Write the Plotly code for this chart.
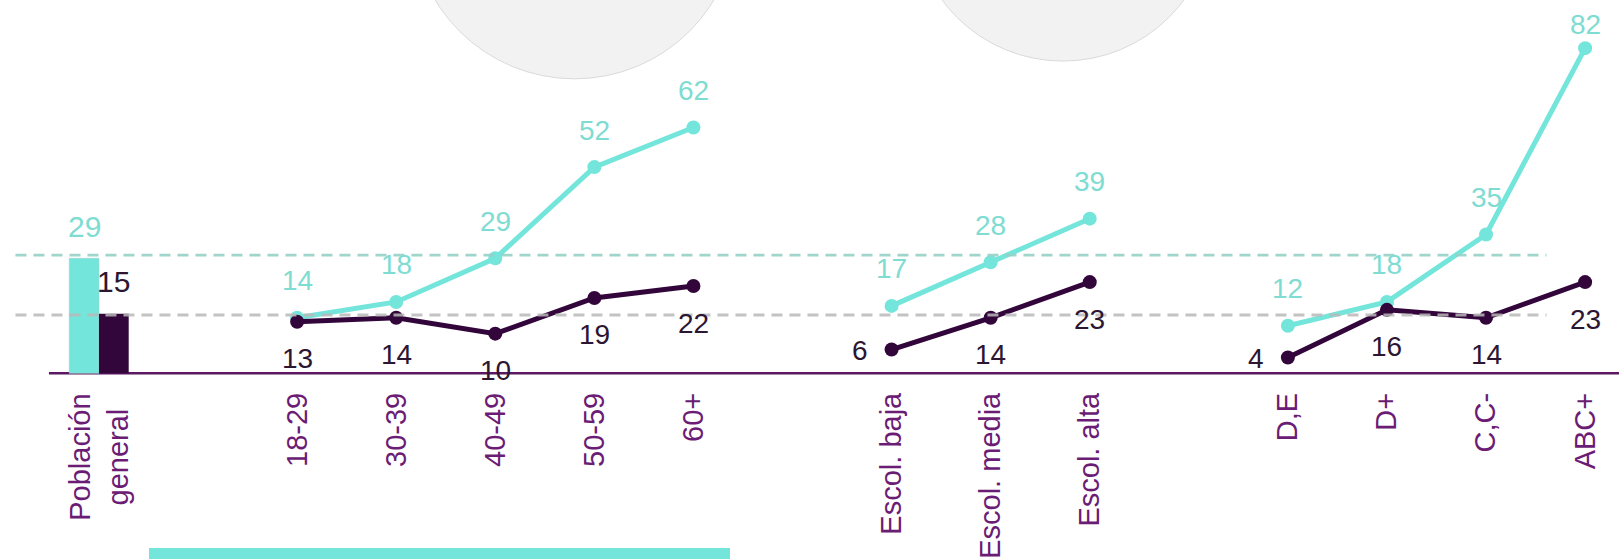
import plotly.graph_objects as go

# ---------------- data ----------------
POP_LABEL = "Población<br>general"
POP_CYAN = 29
POP_DARK = 15

AGE_LABELS = ["18-29", "30-39", "40-49", "50-59", "60+"]
AGE_CYAN = [14, 18, 29, 52, 62]
AGE_DARK = [13, 14, 10, 19, 22]

EDU_LABELS = ["Escol. baja", "Escol. media", "Escol. alta"]
EDU_CYAN = [17, 28, 39]
EDU_DARK = [6, 14, 23]

NSE_LABELS = ["D,E", "D+", "C,C-", "ABC+"]
NSE_CYAN = [12, 18, 35, 82]
NSE_DARK = [4, 16, 14, 23]

# label side for the dark series (style only)
AGE_DARK_SIDE = ["below"] * 5
EDU_DARK_SIDE = ["left", "below", "below"]
NSE_DARK_SIDE = ["left", "below", "below", "below"]

# ---------------- style ----------------
CYAN = "#74E5DA"
CYAN_TXT = "#7EDCD2"
DARK = "#33063B"
DARK_TXT = "#2C1631"
PURPLE = "#6B1C74"
AXIS = "#5C1862"
FONT = "Liberation Sans, Arial, sans-serif"

W, H = 1619, 559
PLOT_H = 380
Y_MIN, Y_MAX = -1.69, 94.15
X_MIN, X_MAX = -0.999, 15.342
PX_PER_Y = PLOT_H / (Y_MAX - Y_MIN)

fig = go.Figure()

# population bars
fig.add_trace(go.Bar(x=[0], y=[POP_CYAN], offset=-0.3, width=0.3,
                     marker=dict(color=CYAN, line=dict(width=0.6, color="#9FD3CC")),
                     showlegend=False, hoverinfo="skip"))
fig.add_trace(go.Bar(x=[0], y=[POP_DARK], offset=0, width=0.3,
                     marker=dict(color=DARK, line=dict(width=0)),
                     showlegend=False, hoverinfo="skip"))

annotations = []
def label(x, y, text, color, size, xshift=0, yshift=0):
    annotations.append(dict(x=x, y=y, xref="x", yref="y", text=text, showarrow=False,
                            xanchor="center", yanchor="middle", xshift=xshift, yshift=yshift,
                            font=dict(family=FONT, size=size, color=color)))

label(-0.15, POP_CYAN, str(POP_CYAN), CYAN_TXT, 30, yshift=32)
label(0.15, POP_DARK, str(POP_DARK), DARK_TXT, 30, yshift=32)

groups = [
    (AGE_LABELS, AGE_CYAN, AGE_DARK, AGE_DARK_SIDE),
    (EDU_LABELS, EDU_CYAN, EDU_DARK, EDU_DARK_SIDE),
    (NSE_LABELS, NSE_CYAN, NSE_DARK, NSE_DARK_SIDE),
]

tickvals = []
ticktext = []
pos = 2
group_x = []
for labels, cy, dk, side in groups:
    xs = list(range(pos, pos + len(labels)))
    group_x.append(xs)
    tickvals += xs
    ticktext += labels
    pos += len(labels) + 1

# centred two-line label for the population category
annotations.append(dict(x=0, y=0, xref="x", yref="y", text=POP_LABEL, showarrow=False,
                        textangle=-90, align="center", xanchor="center", yanchor="top",
                        yshift=-18, font=dict(family=FONT, size=29, color=PURPLE)))

# cyan lines first, dark lines on top
for (labels, cy, dk, side), xs in zip(groups, group_x):
    fig.add_trace(go.Scatter(x=xs, y=cy, mode="lines+markers",
                             line=dict(color=CYAN, width=5),
                             marker=dict(color=CYAN, size=14),
                             showlegend=False, hoverinfo="skip", cliponaxis=False))
    for x, v in zip(xs, cy):
        py = (Y_MAX - v) * PX_PER_Y
        label(x, v, str(v), CYAN_TXT, 28, yshift=min(37, py - 24.5))
for (labels, cy, dk, side), xs in zip(groups, group_x):
    fig.add_trace(go.Scatter(x=xs, y=dk, mode="lines+markers",
                             line=dict(color=DARK, width=5),
                             marker=dict(color=DARK, size=14),
                             showlegend=False, hoverinfo="skip", cliponaxis=False))
    for x, v, s in zip(xs, dk, side):
        if s == "left":
            label(x, v, str(v), DARK_TXT, 28, xshift=-32, yshift=-1)
        else:
            label(x, v, str(v), DARK_TXT, 28, yshift=-37)

shapes = [
    # decorative grey circles at top
    dict(type="circle", xref="x", yref="y", xsizemode="pixel", ysizemode="pixel",
         xanchor=4.80, yanchor=115.3, x0=-162.7, x1=162.7, y0=-162.7, y1=162.7,
         fillcolor="#F2F2F2", line=dict(color="#DADADA", width=1), layer="below"),
    dict(type="circle", xref="x", yref="y", xsizemode="pixel", ysizemode="pixel",
         xanchor=9.73, yanchor=116.7, x0=-150.5, x1=150.5, y0=-150.5, y1=150.5,
         fillcolor="#F2F2F2", line=dict(color="#DADADA", width=1), layer="below"),
    # baseline
    dict(type="line", xref="x", yref="y", x0=-0.505, x1=X_MAX + 1, y0=0, y1=0,
         line=dict(color=AXIS, width=2.5), layer="below"),
    # reference dashed lines at population values
    dict(type="line", xref="x", yref="y", x0=-0.843, x1=14.61, y0=POP_CYAN + 0.8, y1=POP_CYAN + 0.8,
         line=dict(color="rgba(150,208,198,0.9)", width=2.8, dash="11px,7px"), layer="above"),
    dict(type="line", xref="x", yref="y", x0=-0.843, x1=14.61, y0=POP_DARK - 0.3, y1=POP_DARK - 0.3,
         line=dict(color="rgba(185,185,185,0.85)", width=2.8, dash="11px,7px"), layer="above"),
    # cyan strip at bottom
    dict(type="rect", xref="paper", yref="paper", x0=149 / W, x1=730 / W,
         y0=-(H - PLOT_H + 5) / PLOT_H, y1=-(548 - PLOT_H) / PLOT_H,
         fillcolor="#74E5DA", line=dict(width=0), layer="above"),
]

fig.update_layout(
    width=W, height=H,
    margin=dict(l=0, r=0, t=0, b=H - PLOT_H, pad=0),
    paper_bgcolor="white", plot_bgcolor="white",
    barmode="overlay",
    showlegend=False,
    shapes=shapes,
    annotations=annotations,
    font=dict(family=FONT),
    xaxis=dict(range=[X_MIN, X_MAX], tickvals=tickvals, ticktext=ticktext,
               tickangle=-90, ticks="", showgrid=False, zeroline=False, showline=False,
               tickfont=dict(family=FONT, size=29, color=PURPLE),
               ticklabelstandoff=6, automargin=False, fixedrange=True),
    yaxis=dict(range=[Y_MIN, Y_MAX], visible=False, showgrid=False, zeroline=False,
               fixedrange=True),
)

fig.write_html("out.html", config={"displayModeBar": False},
               post_script="document.body.style.margin='0';document.body.style.padding='0';"
                           "document.body.style.overflow='hidden';")
